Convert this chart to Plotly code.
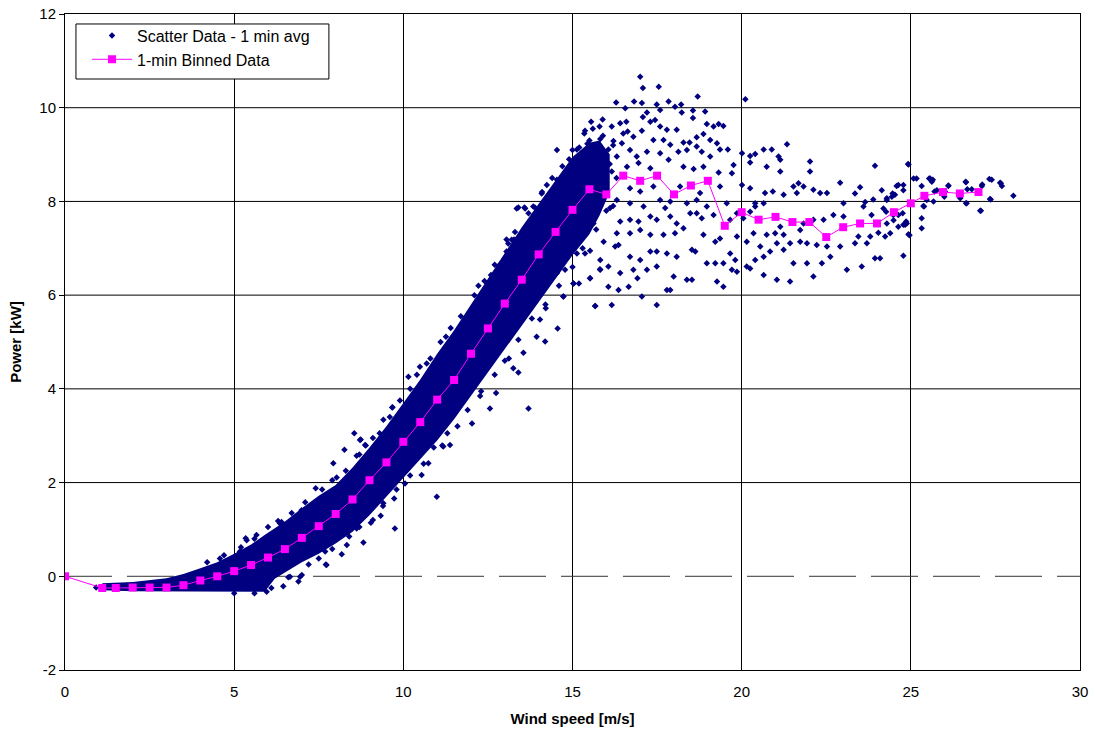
import plotly.graph_objects as go

# ---------------- data ----------------
# 1-min binned power curve
bin_x = [0, 1.1, 1.5, 2.0, 2.5, 3.0, 3.5, 4.0, 4.5, 5.0,
         5.5, 6.0, 6.5, 7.0, 7.5, 8.0, 8.5, 9.0, 9.5, 10.0,
         10.5, 11.0, 11.5, 12.0, 12.5, 13.0, 13.5, 14.0, 14.5, 15.0,
         15.5, 16.0, 16.5, 17.0, 17.5, 18.0, 18.5, 19.0, 19.5, 20.0,
         20.5, 21.0, 21.5, 22.0, 22.5, 23.0, 23.5, 24.0, 24.5, 25.0,
         25.4, 25.95, 26.45, 27.0]
bin_y = [0, -0.25, -0.25, -0.24, -0.24, -0.24, -0.19, -0.09, 0.0, 0.11,
         0.24, 0.40, 0.58, 0.82, 1.07, 1.33, 1.64, 2.05, 2.43, 2.87,
         3.29, 3.77, 4.19, 4.75, 5.29, 5.82, 6.33, 6.87, 7.35, 7.82,
         8.26, 8.15, 8.55, 8.44, 8.55, 8.15, 8.34, 8.44, 7.48, 7.77,
         7.61, 7.67, 7.56, 7.56, 7.24, 7.45, 7.53, 7.53, 7.77, 7.96,
         8.12, 8.20, 8.17, 8.20]

# envelope of the dense (solid) part of the 1-min scatter cloud
band_x = [1.1, 2.0, 3.0, 3.5, 4.0, 4.5, 5.0, 5.5, 5.9, 6.2, 6.5, 7.0, 7.5, 8.0, 8.5, 9.0,
          9.5, 10.0, 10.5, 11.0, 11.5, 12.0, 12.5, 13.0, 13.5, 14.0, 14.5, 15.0, 15.5, 15.8, 16.1]
band_lower = [-0.30, -0.32, -0.32, -0.32, -0.32, -0.32, -0.33, -0.33, -0.33, -0.05, 0.08, 0.30,
              0.48, 0.70, 0.95, 1.30, 1.70, 2.10, 2.50, 2.90, 3.35, 3.85, 4.35, 4.85, 5.35,
              5.85, 6.35, 6.85, 7.30, 7.70, 8.20]
band_upper = [-0.15, -0.12, -0.04, 0.05, 0.17, 0.30, 0.48, 0.68, 0.88, 1.02, 1.17, 1.45,
              1.72, 1.95, 2.32, 2.75, 3.20, 3.70, 4.20, 4.75, 5.25, 5.80, 6.35, 6.90, 7.45,
              7.95, 8.45, 8.95, 9.25, 9.30, 9.00]

# individual scatter points (wind speed, power)
scatter_pts = [
    # ragged edges of the dense band
    (4.2, 0.30), (4.7, 0.45), (5.2, 0.62), (5.6, 0.80), (6.0, 1.05), (6.3, 1.18), (6.7, 1.35),
    (7.1, 1.58), (7.6, 1.85), (7.9, 2.05), (8.3, 2.25), (8.7, 2.60), (9.1, 2.95), (9.3, 3.05),
    (9.6, 3.40), (9.9, 3.75), (10.2, 4.00), (10.4, 4.30), (10.8, 4.65), (11.1, 5.00), (11.4, 5.30),
    (11.7, 5.55), (12.1, 6.00), (12.4, 6.30), (12.7, 6.65), (13.1, 7.10), (13.3, 7.35), (13.7, 7.75),
    (14.1, 8.20), (14.4, 8.50), (14.7, 8.75), (15.0, 9.10),
    (5.0, -0.36), (5.6, -0.36), (6.1, -0.25), (6.6, -0.02), (7.2, 0.25), (7.5, 0.38), (7.9, 0.58),
    (8.4, 0.85), (8.7, 1.05), (9.1, 1.20), (9.4, 1.50), (9.8, 1.85), (10.2, 2.15), (10.6, 2.40),
    (10.9, 2.75), (11.3, 3.05), (11.6, 3.20), (11.9, 3.55), (12.3, 3.95), (12.7, 4.30), (13.0, 4.60),
    (13.4, 5.05), (13.8, 5.50), (14.2, 5.80), (14.6, 6.20), (15.0, 6.60), (15.3, 7.00), (15.7, 7.40),
    (16.0, 7.80),
    # around the ramp (outliers of the band)
    (0.92, -0.24), (4.58, 0.38), (5.17, 0.53), (5.37, 0.77), (5.66, 0.88), (5.81, 0.72),
    (5.34, 0.81), (5.86, 0.74), (6.16, 0.92), (6.35, 1.13), (6.40, 1.16), (5.96, -0.33),
    (6.45, -0.21), (6.65, -0.01), (6.95, -0.01), (6.90, -0.11), (7.00, 0.03), (7.73, 0.24),
    (7.71, 0.25), (7.69, 0.53), (8.18, 0.47), (8.33, 0.67), (8.82, 0.72), (8.62, 1.02),
    (9.04, 1.14), (9.33, 1.29), (9.75, 1.02), (9.41, 1.56), (9.73, 1.66), (10.99, 1.70),
    (10.05, 1.98), (10.54, 2.16), (10.74, 2.41), (11.15, 2.79), (11.38, 2.80), (11.18, 2.77),
    (6.99, 1.41), (7.24, 1.49), (7.41, 1.88), (7.93, 2.41), (8.03, 2.11), (8.26, 2.70),
    (8.62, 2.57), (8.55, 3.05), (8.74, 2.92), (8.89, 2.79), (8.87, 2.80), (8.72, 2.91),
    (9.67, 3.60), (9.68, 3.61), (9.41, 3.34), (10.15, 4.26), (10.49, 4.47), (10.69, 4.54),
    (11.08, 4.72), (11.26, 5.11), (11.38, 4.94), (12.22, 6.20), (12.59, 6.43), (12.86, 6.66),
    (13.05, 7.19), (13.27, 7.19), (13.40, 7.87), (13.58, 7.87), (13.89, 7.87), (13.35, 7.85),
    (13.60, 7.85), (13.84, 7.89), (14.09, 8.17), (14.24, 8.35), (13.20, 7.18), (13.05, 6.93),
    (12.03, 3.26), (12.56, 3.58), (12.27, 3.85), (12.74, 3.91), (13.70, 3.58), (13.40, 4.35),
    (13.25, 4.44), (13.12, 4.65), (13.55, 4.77), (13.94, 5.11), (14.19, 5.01), (14.56, 5.29),
    (14.04, 5.48), (14.21, 5.72), (14.73, 5.97), (15.03, 6.25), (15.19, 6.25), (15.52, 6.36),
    (15.67, 5.77), (15.81, 6.55), (15.52, 6.95), (15.37, 6.89),
    # dense cluster 15-16.5 m/s
    (15.20, 9.15), (15.35, 9.45), (15.50, 9.30), (15.60, 9.55), (15.75, 9.20), (15.90, 9.40),
    (16.00, 9.00), (16.10, 8.80), (16.20, 9.20), (15.30, 8.95), (15.65, 8.85), (16.30, 8.50),
    (16.00, 8.20), (16.20, 7.90), (15.40, 9.05), (16.50, 9.45), (15.80, 9.60), (15.55, 9.70),
    (15.10, 8.60), (14.90, 8.90),
    # sparse region above rated speed
    (17.00, 10.66), (17.08, 10.42), (17.55, 10.45), (18.70, 10.24), (20.11, 10.18), (16.29, 10.11),
    (16.82, 10.13), (17.05, 10.10), (17.49, 10.07), (17.84, 10.13), (18.03, 10.02), (18.21, 10.07),
    (16.56, 9.99), (17.20, 9.90), (17.59, 9.95), (18.23, 9.90), (18.56, 9.94), (18.92, 9.92),
    (15.89, 9.75), (15.37, 9.51), (16.16, 9.60), (16.41, 9.67), (16.59, 9.70), (16.63, 9.49),
    (17.08, 9.80), (17.30, 9.70), (17.44, 9.74), (17.59, 9.60), (17.79, 9.53), (18.08, 9.53),
    (18.56, 9.78), (18.97, 9.65), (19.17, 9.60), (19.32, 9.65), (19.46, 9.61), (16.80, 9.38),
    (17.05, 9.51), (17.39, 9.31), (17.69, 9.31), (17.89, 9.21), (18.28, 9.26), (18.46, 9.26),
    (18.67, 9.37), (18.87, 9.44), (19.07, 9.31), (19.27, 9.24), (15.13, 9.11), (14.54, 9.10),
    (15.44, 9.23), (15.82, 9.33), (16.06, 9.11), (16.21, 9.29), (16.46, 9.24), (16.70, 9.10),
    (16.90, 8.96), (17.20, 9.06), (17.59, 9.03), (17.84, 8.89), (18.13, 9.06), (18.38, 9.10),
    (18.67, 9.17), (18.82, 9.06), (19.07, 8.96), (19.36, 9.11), (19.59, 9.11), (20.01, 9.03),
    (20.25, 8.97), (20.40, 9.01), (20.65, 9.11), (20.89, 9.11), (21.09, 8.96), (21.34, 9.22),
    (20.25, 8.83), (19.76, 8.78), (21.14, 8.89), (22.02, 8.85), (14.83, 8.67), (15.52, 8.89),
    (15.92, 8.82), (16.31, 8.96), (16.61, 8.74), (16.95, 8.82), (17.30, 8.71), (18.28, 8.74),
    (18.58, 8.69), (18.87, 8.74), (19.32, 8.62), (19.71, 8.60), (20.74, 8.74), (21.14, 8.64),
    (21.53, 8.32), (22.02, 8.64), (14.54, 8.46), (15.03, 8.46), (15.82, 8.46), (16.16, 8.64),
    (16.70, 8.28), (17.00, 8.21), (17.39, 8.32), (17.89, 8.00), (18.18, 8.32), (18.38, 7.96),
    (18.67, 8.03), (18.77, 8.18), (18.97, 7.89), (19.36, 8.32), (19.56, 7.96), (20.01, 8.35),
    (20.25, 8.28), (20.40, 7.96), (20.69, 8.18), (20.92, 8.21), (21.24, 8.14), (21.68, 8.39),
    (21.63, 8.18), (21.83, 8.32), (22.12, 8.25), (22.32, 8.18), (22.52, 8.18), (22.91, 8.40),
    (23.01, 7.96), (15.82, 7.89), (16.31, 8.03), (16.70, 7.96), (17.10, 7.89), (17.59, 8.03),
    (17.74, 7.86), (14.93, 7.53), (15.42, 7.68), (15.62, 7.53), (16.11, 7.86), (16.41, 7.57),
    (16.70, 7.61), (16.95, 7.57), (17.30, 7.68), (17.49, 7.61), (17.89, 7.68), (18.08, 7.53),
    (18.48, 7.75), (18.67, 7.75), (18.82, 7.64), (19.17, 7.71), (19.66, 7.61), (19.86, 7.75),
    (20.05, 7.64), (20.25, 7.78), (20.40, 7.89), (20.65, 7.96), (20.74, 7.29), (20.99, 7.32),
    (21.14, 7.46), (21.24, 7.29), (21.73, 7.39), (21.83, 7.53), (22.12, 7.61), (22.42, 7.61),
    (22.71, 7.71), (23.01, 7.68), (15.33, 7.29), (15.92, 7.14), (16.31, 7.32), (16.70, 7.32),
    (17.00, 7.39), (17.30, 7.29), (17.69, 7.29), (18.03, 7.32), (18.28, 7.43), (18.87, 7.29),
    (19.22, 7.14), (19.36, 7.21), (19.86, 7.25), (20.15, 7.14), (20.35, 7.32), (20.55, 7.04),
    (21.04, 7.11), (21.43, 7.11), (21.73, 7.14), (21.93, 7.11), (22.22, 7.07), (22.52, 7.04),
    (22.91, 7.04), (14.54, 7.04), (14.83, 6.97), (15.13, 6.89), (15.82, 6.75), (16.26, 7.04),
    (16.36, 7.07), (16.70, 6.82), (17.00, 6.75), (17.30, 6.93), (17.49, 6.93), (17.79, 6.89),
    (18.08, 6.82), (18.53, 6.97), (18.63, 6.93), (18.97, 6.68), (19.22, 6.68), (19.46, 6.68),
    (19.66, 6.89), (19.81, 6.75), (20.15, 6.61), (20.40, 6.75), (20.65, 6.82), (20.84, 6.93),
    (21.24, 6.97), (21.53, 6.68), (21.93, 6.68), (22.37, 6.68), (22.62, 6.82), (23.11, 6.54),
    (15.82, 6.54), (16.06, 6.61), (16.41, 6.47), (16.80, 6.54), (17.20, 6.54), (17.49, 6.61),
    (17.99, 6.40), (18.38, 6.33), (18.53, 6.33), (19.27, 6.29), (19.71, 6.54), (19.86, 6.50),
    (20.25, 6.57), (20.65, 6.43), (21.04, 6.33), (21.43, 6.29), (22.12, 6.40), (14.54, 6.47),
    (14.78, 6.54), (15.03, 6.25), (15.52, 6.36), (16.06, 6.18), (16.36, 6.11), (16.66, 6.18),
    (16.92, 6.36), (17.79, 6.11), (17.89, 6.11), (19.46, 6.18), (17.05, 5.97), (17.49, 5.79),
    (15.67, 5.77), (16.16, 5.79), (14.73, 5.97),
    # 23 - 28 m/s
    (23.94, 8.76), (24.93, 8.79), (24.14, 8.24), (24.58, 8.33), (24.78, 8.24), (23.50, 8.30),
    (23.35, 8.17), (23.65, 7.99), (23.89, 8.04), (24.29, 8.07), (24.44, 8.10), (23.60, 7.89),
    (23.84, 7.71), (24.19, 7.85), (24.29, 7.53), (24.63, 7.46), (24.78, 7.50), (24.88, 7.53),
    (24.93, 7.30), (25.17, 8.49), (25.32, 8.33), (25.57, 8.49), (25.62, 8.42), (25.37, 7.90),
    (25.47, 8.03), (25.77, 8.24), (25.32, 7.64), (24.78, 6.84), (24.09, 6.79), (23.94, 6.79),
    (23.55, 6.61), (23.35, 7.11), (23.45, 7.25), (23.80, 7.25), (24.04, 7.33), (24.39, 7.32),
    (23.70, 7.11), (24.49, 7.60), (25.99, 8.10), (26.11, 8.33), (26.62, 8.42), (26.80, 8.26),
    (27.10, 8.33), (27.32, 8.48), (27.39, 8.46), (27.64, 8.40), (27.69, 8.33), (28.03, 8.12),
    (27.34, 8.05), (27.05, 7.80), (26.65, 7.96), (26.46, 8.07), (25.08, 8.49), (25.54, 8.49),
    (25.65, 8.46), (25.70, 8.21), (25.32, 7.43), (25.39, 7.89), (25.67, 8.00), (24.92, 8.80),
    (26.11, 8.34), (26.63, 8.41), (27.11, 8.36), (27.66, 8.39), (26.63, 7.96), (27.07, 7.80),
    (27.36, 8.04), (24.96, 7.28), (24.76, 7.75), (24.63, 7.71), (24.86, 7.57), (24.83, 7.50),
    (24.78, 8.35), (24.63, 8.35), (24.53, 8.14), (24.46, 8.17), (24.29, 8.03), (24.27, 7.78),
    (24.48, 7.71), (24.24, 7.25), (26.01, 8.21), (26.45, 8.10), (26.67, 8.26),
]
scatter_x = [p[0] for p in scatter_pts]
scatter_y = [p[1] for p in scatter_pts]

# horizontal reference line at zero power
zero_x = [0, 30]
zero_y = [0, 0]

# tick labels
x_ticks = [0, 5, 10, 15, 20, 25, 30]
x_labels = ["0", "5", "10", "15", "20", "25", "30"]
y_ticks = [-2, 0, 2, 4, 6, 8, 10, 12]
y_labels = ["-2", "0", "2", "4", "6", "8", "10", "12"]
y_grid = [2, 4, 6, 8, 10]   # horizontal gridlines (no solid line at zero)

NAVY = "#000080"
MAGENTA = "#FF00FF"
font_family = "Liberation Sans, Arial, sans-serif"

fig = go.Figure()

fig.add_trace(go.Scatter(
    x=zero_x, y=zero_y, mode="lines", showlegend=False, hoverinfo="skip",
    line=dict(color="#333333", width=1, dash="47px,15px")))

# dense core of the scatter cloud
fig.add_trace(go.Scatter(
    x=band_x + band_x[::-1], y=band_upper + band_lower[::-1],
    mode="lines", fill="toself", fillcolor=NAVY,
    line=dict(width=0, color=NAVY), showlegend=False, hoverinfo="skip"))

fig.add_trace(go.Scatter(
    x=scatter_x, y=scatter_y, mode="markers", name="Scatter Data - 1 min avg",
    marker=dict(symbol="diamond", size=5, color=NAVY, line=dict(width=0))))

fig.add_trace(go.Scatter(
    x=bin_x, y=bin_y, mode="lines+markers", name="1-min Binned Data",
    line=dict(color=MAGENTA, width=1),
    marker=dict(symbol="square", size=8, color=MAGENTA, line=dict(width=0))))

# horizontal gridlines
for gy in y_grid:
    fig.add_shape(type="line", xref="paper", yref="y", x0=0, x1=1, y0=gy, y1=gy,
                  line=dict(color="black", width=1), layer="below")

# legend frame
fig.add_shape(type="rect", xref="paper", yref="paper",
              x0=0.0108, x1=0.260, y0=0.9009, y1=0.9848,
              line=dict(color="black", width=1), fillcolor="white", layer="above")

fig.update_layout(
    width=1095, height=738,
    margin=dict(l=65, r=15, t=14, b=68),
    paper_bgcolor="white", plot_bgcolor="white",
    font=dict(family=font_family, size=15, color="black"),
    showlegend=True,
    legend=dict(x=0.0217, y=0.993, xanchor="left", yanchor="top",
                bgcolor="rgba(0,0,0,0)", borderwidth=0,
                font=dict(size=16), itemwidth=40, tracegroupgap=0),
)
fig.update_xaxes(
    range=[0, 30], tickvals=x_ticks, ticktext=x_labels,
    showgrid=True, gridcolor="black", gridwidth=1,
    showline=True, linecolor="black", linewidth=1, mirror=True,
    zeroline=False, ticks="outside", ticklen=8, tickcolor="rgba(0,0,0,0)",
    tickfont=dict(size=15), automargin=False,
    title=dict(text="<b>Wind speed [m/s]</b>", font=dict(size=15), standoff=14),
)
fig.update_yaxes(
    range=[-2, 12], tickvals=y_ticks, ticktext=y_labels,
    showgrid=False,
    showline=True, linecolor="black", linewidth=1, mirror=True,
    zeroline=False, ticks="outside", ticklen=5, tickcolor="black",
    tickfont=dict(size=15), automargin=False,
    title=dict(text="<b>Power [kW]</b>", font=dict(size=15), standoff=14),
)

fig.write_html("out.html")
